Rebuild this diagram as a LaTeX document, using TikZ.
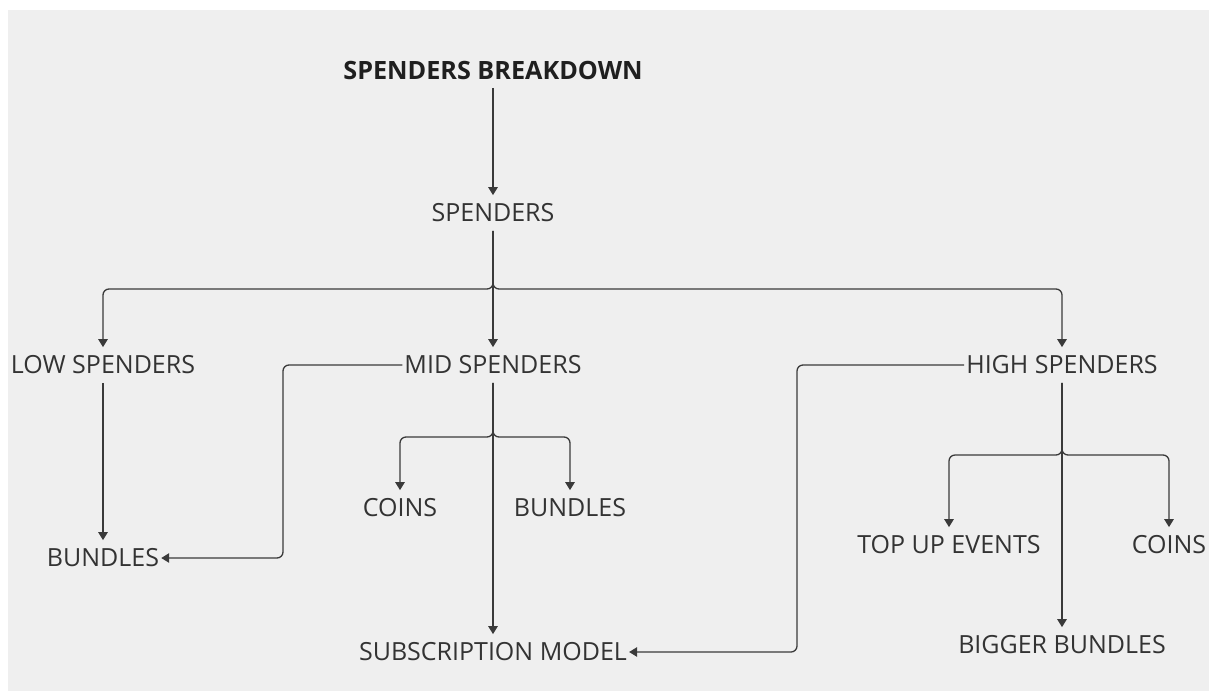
\documentclass[tikz,border=0pt]{standalone}
\usepackage{fontspec}
\setmainfont{Open Sans}
\usetikzlibrary{arrows.meta}
\definecolor{panel}{HTML}{EFEFEF}
\definecolor{ink}{HTML}{333333}
\definecolor{wire}{HTML}{3A3A3A}
\tikzset{
  label/.style={inner xsep=2pt, inner ysep=8.5pt, text=ink,
    font=\fontsize{25}{30}\selectfont},
  heading/.style={label, text=black!88, font=\fontsize{25.2}{30}\selectfont\bfseries},
  conn/.style={draw=wire, line width=1.3pt, rounded corners=6pt,
    -{Triangle[width=9.5pt,length=8pt]}},
  plain/.style={draw=wire, line width=1.3pt, rounded corners=6pt}
}
\begin{document}
\begin{tikzpicture}[x=1pt,y=-1pt]
  \useasboundingbox (0,0) rectangle (1209,691);
  \fill[white] (0,0) rectangle (1209,691);
  \fill[panel] (8,10) rectangle (1209,691);

  % nodes
  \node[heading] (title) at (493,70) {SPENDERS BREAKDOWN};
  \node[label] (sp)    at (493,213) {SPENDERS};
  \node[label] (low)   at (103,365) {LOW SPENDERS};
  \node[label] (mid)   at (493,365) {MID SPENDERS};
  \node[label] (high)  at (1062,365) {HIGH SPENDERS};
  \node[label] (bundA) at (103,558) {BUNDLES};
  \node[label] (coinA) at (400,508) {COINS};
  \node[label] (bundB) at (570,508) {BUNDLES};
  \node[label] (sub)   at (493,652) {SUBSCRIPTION MODEL};
  \node[label] (topup) at (949,545) {TOP UP EVENTS};
  \node[label] (coinB) at (1169,545) {COINS};
  \node[label] (big)   at (1062,645) {BIGGER BUNDLES};

  % junction and bend points
  \coordinate (j1) at (493,289);
  \coordinate (j2) at (493,437);
  \coordinate (j3) at (1062,455);
  \coordinate (bendA) at (283,460);
  \coordinate (bendB) at (797,500);

  % connectors
  \draw[conn] (title.south) -- (sp.north);
  \draw[conn] (sp.south) -- (j1) -| (low.north);
  \draw[conn] (sp.south) -- (mid.north);
  \draw[conn] (sp.south) -- (j1) -| (high.north);

  \draw[conn] (low.south) -- (bundA.north);

  \draw[conn] (mid.west) -| (bendA) |- (bundA.east);
  \draw[conn] (mid.south) -- (j2) -| (coinA.north);
  \draw[conn] (mid.south) -- (j2) -| (bundB.north);
  \draw[conn] (mid.south) -- (sub.north);

  \draw[conn] (high.west) -| (bendB) |- (sub.east);
  \draw[conn] (high.south) -- (j3) -| (topup.north);
  \draw[conn] (high.south) -- (j3) -| (coinB.north);
  \draw[conn] (high.south) -- (big.north);
\end{tikzpicture}
\end{document}
